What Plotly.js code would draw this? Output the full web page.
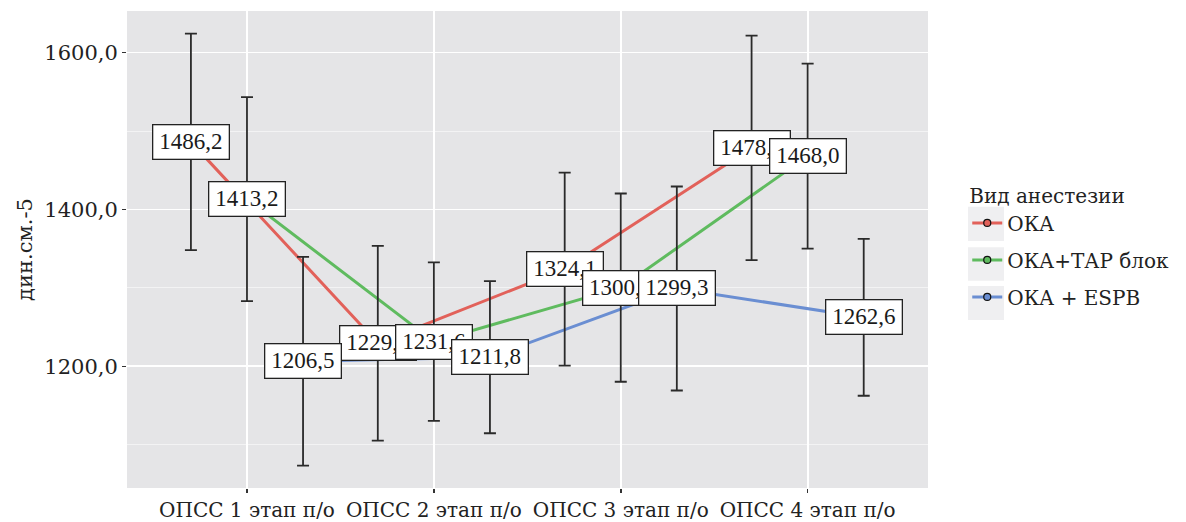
<!DOCTYPE html>
<html>
<head>
<meta charset="utf-8">
<script src="https://cdn.plot.ly/plotly-3.0.1.min.js"></script>
<style>html,body{margin:0;padding:0;background:#fff;}#chart{width:1186px;height:522px;}</style>
</head>
<body>
<div id="chart"></div>
<script>
// ---- data ----
const stages = ["ОПСС 1 этап п/о", "ОПСС 2 этап п/о", "ОПСС 3 этап п/о", "ОПСС 4 этап п/о"];
const seriesNames = ["ОКА", "ОКА+ТАР блок", "ОКА + ESPB"];
const okaMean  = [1486.2, 1229.5, 1324.1, 1478.5];
const tapMean  = [1413.2, 1231.6, 1300.4, 1468.0];
const espbMean = [1206.5, 1211.8, 1299.3, 1262.6];
const okaSD  = [138, 124, 123, 143];
const tapSD  = [130, 101, 120, 118];
const espbSD = [133, 97, 130, 100];
const yTicks = [1200, 1400, 1600];
const yMinor = [1100, 1300, 1500];

// ---- styling ----
const colors = ["#e2615a", "#5fbb5f", "#6a8ed2"];
const dodge = [-0.3, 0, 0.3];
const means = [okaMean, tapMean, espbMean];
const sds = [okaSD, tapSD, espbSD];
const serif = "DejaVu Serif, serif";
const labelFont = "Liberation Serif, serif";

const traces = [];
means.forEach((m, i) => {
  traces.push({
    type: "scatter", mode: "lines+markers", name: seriesNames[i],
    legendgroup: "g" + i,
    x: stages.map((_, k) => k + dodge[i]), y: m,
    line: {color: colors[i], width: 3},
    marker: {color: colors[i], size: 7, line: {color: "#111", width: 1.2}},
    hoverinfo: "skip"
  });
});
means.forEach((m, i) => {
  traces.push({
    type: "scatter", mode: "markers", showlegend: false,
    x: stages.map((_, k) => k + dodge[i]), y: m,
    marker: {size: 0.1, color: "rgba(0,0,0,0)"},
    error_y: {type: "data", array: sds[i], visible: true, color: "#2a2a2a", thickness: 1.8, width: 6},
    hoverinfo: "skip"
  });
});

const fmt = v => v.toFixed(1).replace(".", ",");
const annotations = [];
means.forEach((m, i) => {
  m.forEach((v, k) => {
    annotations.push({
      xref: "x", yref: "y", x: k + dodge[i], y: v, text: fmt(v), showarrow: false,
      bgcolor: "#ffffff", bordercolor: "#222", borderwidth: 1.3, borderpad: 2,
      width: 71, height: 29,
      font: {family: labelFont, size: 23, color: "#1a1a1a"}
    });
  });
});

// legend key backgrounds (ggplot legend.key)
const keyBoxes = [[206.7, 241], [247.3, 280.7], [286, 320]];
const px2x = p => (p - 127) / 801;
const px2y = p => (488 - p) / 477;
const shapes = keyBoxes.map(b => ({
  type: "rect", xref: "paper", yref: "paper", layer: "below",
  x0: px2x(968), x1: px2x(1004), y0: px2y(b[1]), y1: px2y(b[0]),
  fillcolor: "#efeff1", line: {width: 0}
}));

const layout = {
  width: 1186, height: 522,
  margin: {l: 127, r: 258, t: 11, b: 34},
  paper_bgcolor: "#ffffff", plot_bgcolor: "#e5e5e7",
  separators: ", ",
  showlegend: true,
  legend: {
    x: 1.049, xanchor: "left", y: 0.651, yanchor: "top",
    title: {text: "Вид анестезии", font: {family: serif, size: 20, color: "#222"}},
    font: {family: serif, size: 20, color: "#222"},
    tracegroupgap: 8, bgcolor: "rgba(0,0,0,0)"
  },
  shapes: shapes,
  xaxis: {
    range: [-0.642, 3.644], tickmode: "array", tickvals: stages.map((_, k) => k), ticktext: stages,
    showgrid: true, gridcolor: "#ffffff", gridwidth: 1.8, zeroline: false,
    ticks: "outside", ticklen: 4, tickcolor: "#333", tickwidth: 1.5,
    tickfont: {family: serif, size: 20, color: "#222"}, showline: false
  },
  yaxis: {
    range: [1045, 1653], tickmode: "array", tickvals: yTicks, tickformat: ".1f",
    showgrid: true, gridcolor: "#ffffff", gridwidth: 1.8, zeroline: false,
    minor: {tickmode: "array", tickvals: yMinor, showgrid: true, gridcolor: "#f3f3f4", gridwidth: 1, ticks: ""},
    ticks: "outside", ticklen: 4, tickcolor: "#333", tickwidth: 1.5,
    tickfont: {family: serif, size: 21, color: "#222"},
    title: {text: "дин.см.-5", font: {family: serif, size: 21, color: "#222"}, standoff: 5},
    showline: false
  },
  annotations: annotations
};

Plotly.newPlot("chart", traces, layout, {displayModeBar: false, staticPlot: true});
</script>
</body>
</html>
